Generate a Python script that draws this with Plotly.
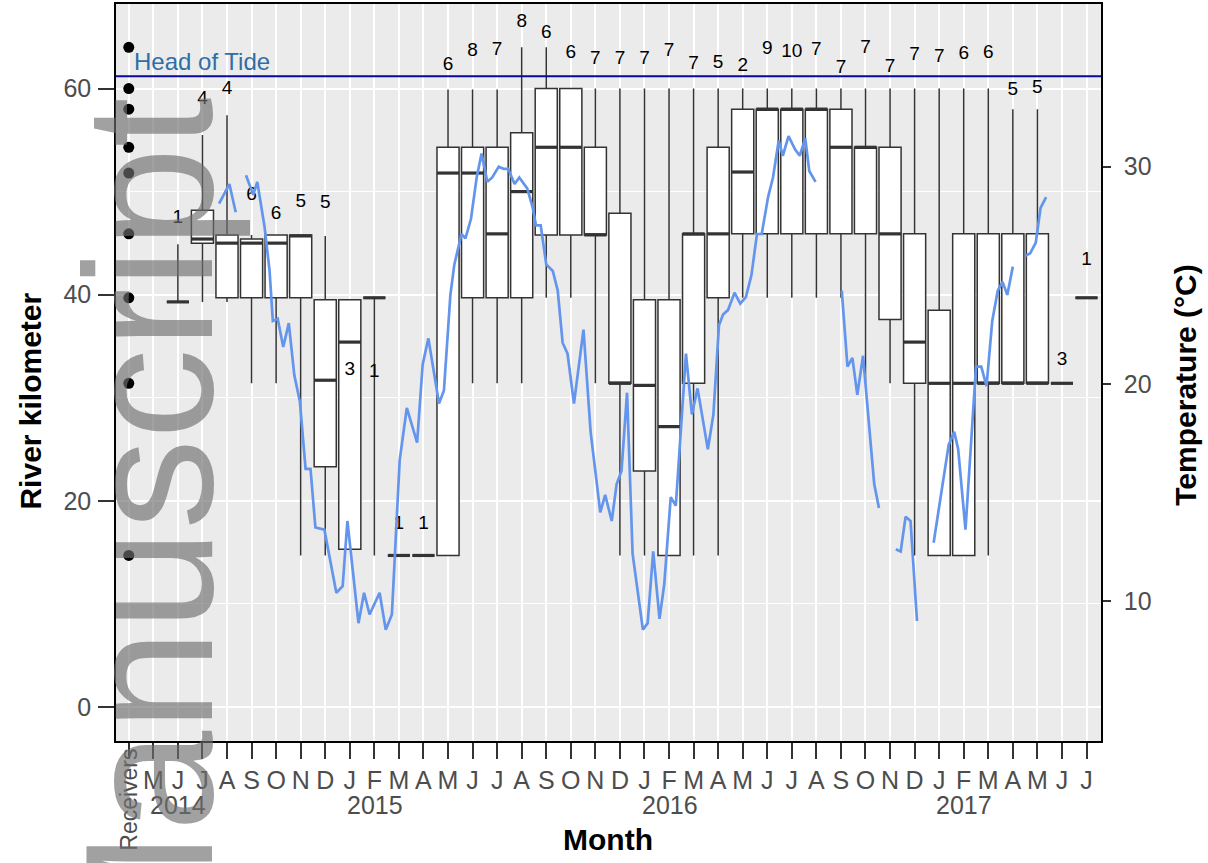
import calendar
import plotly.graph_objects as go

# ---------------------------------------------------------------- categories
months = [
    "2014-05", "2014-06", "2014-07", "2014-08", "2014-09", "2014-10", "2014-11", "2014-12",
    "2015-01", "2015-02", "2015-03", "2015-04", "2015-05", "2015-06", "2015-07", "2015-08",
    "2015-09", "2015-10", "2015-11", "2015-12",
    "2016-01", "2016-02", "2016-03", "2016-04", "2016-05", "2016-06", "2016-07", "2016-08",
    "2016-09", "2016-10", "2016-11", "2016-12",
    "2017-01", "2017-02", "2017-03", "2017-04", "2017-05", "2017-06", "2017-07",
]
month_labels = [
    "M", "J", "J", "A", "S", "O", "N", "D",
    "J", "F", "M", "A", "M", "J", "J", "A", "S", "O", "N", "D",
    "J", "F", "M", "A", "M", "J", "J", "A", "S", "O", "N", "D",
    "J", "F", "M", "A", "M", "J", "J",
]
receiver_label = "Receivers"
year_labels = ["2014", "2015", "2016", "2017"]
year_first_month = ["2014-05", "2015-01", "2016-01", "2017-01"]

# ---------------------------------------------------------------- receivers
receivers_km = [64.0, 60.0, 58.0, 54.3, 51.8, 45.9, 39.7, 31.4, 14.7]
head_of_tide_km = 61.2

# ---------------------------------------------------------------- monthly positions (box summaries, river km)
box_month = [
    "2014-06", "2014-07", "2014-08", "2014-09", "2014-10", "2014-11", "2014-12",
    "2015-01", "2015-02", "2015-03", "2015-04", "2015-05", "2015-06", "2015-07", "2015-08",
    "2015-09", "2015-10", "2015-11", "2015-12",
    "2016-01", "2016-02", "2016-03", "2016-04", "2016-05", "2016-06", "2016-07", "2016-08",
    "2016-09", "2016-10", "2016-11", "2016-12",
    "2017-01", "2017-02", "2017-03", "2017-04", "2017-05", "2017-06", "2017-07",
]
box_n = [1, 4, 4, 6, 6, 5, 5,
         3, 1, 1, 1, 6, 8, 7, 8, 6, 6, 7, 7,
         7, 7, 7, 5, 2, 9, 10, 7, 7, 7, 7, 7,
         7, 6, 6, 5, 5, 3, 1]
box_low = [39.3, 39.3, 39.3, 31.4, 31.4, 14.7, 14.7,
           15.3, 14.7, 14.7, 14.7, 14.7, 31.4, 31.4, 31.4, 39.7, 39.7, 31.4, 14.7,
           14.7, 14.7, 14.7, 14.7, 39.7, 39.7, 39.7, 39.7, 39.7, 31.4, 31.4, 14.7,
           14.7, 14.7, 14.7, 31.4, 31.4, 31.4, 39.7]
box_q1 = [39.3, 45.0, 39.7, 39.7, 39.7, 39.7, 23.3,
          15.3, 39.7, 14.7, 14.7, 14.7, 39.7, 39.7, 39.7, 45.8, 45.8, 45.8, 31.4,
          22.9, 14.7, 31.4, 39.7, 45.9, 45.9, 45.9, 45.9, 45.9, 45.9, 37.6, 31.4,
          14.7, 14.7, 31.4, 31.4, 31.4, 31.4, 39.7]
box_med = [39.3, 45.4, 45.0, 45.0, 45.0, 45.7, 31.7,
           35.4, 39.7, 14.7, 14.7, 51.8, 51.8, 45.9, 50.0, 54.3, 54.3, 45.8, 31.4,
           31.2, 27.2, 45.9, 45.9, 51.9, 58.0, 58.0, 58.0, 54.3, 54.3, 45.9, 35.4,
           31.4, 31.4, 31.4, 31.4, 31.4, 31.4, 39.7]
box_q3 = [39.3, 48.2, 45.8, 45.4, 45.8, 45.8, 39.5,
          39.5, 39.7, 14.7, 14.7, 54.3, 54.3, 54.3, 55.7, 60.0, 60.0, 54.3, 47.9,
          39.5, 39.5, 45.9, 54.3, 58.0, 58.0, 58.0, 58.0, 58.0, 54.3, 54.3, 45.9,
          38.5, 45.9, 45.9, 45.9, 45.9, 31.4, 39.7]
box_high = [44.9, 55.5, 57.4, 45.8, 45.8, 45.8, 45.7,
            39.5, 39.7, 14.7, 14.7, 59.9, 59.9, 59.9, 64.0, 64.0, 60.0, 60.0, 60.0,
            60.0, 60.0, 60.0, 60.0, 60.0, 60.0, 60.0, 60.0, 60.0, 60.0, 60.0, 60.0,
            60.0, 60.0, 60.0, 58.0, 58.0, 31.4, 39.7]
# height (river km) at which each fish count is printed
label_km = [47.4, 59.0, 59.9, 49.6, 47.8, 49.0, 48.9,
            32.7, 32.5, 17.7, 17.7, 62.3, 63.6, 63.7, 66.4, 65.4, 63.4, 62.8, 62.8,
            62.8, 63.6, 62.4, 62.5, 62.2, 63.8, 63.5, 63.7, 62.0, 63.9, 62.1, 63.2,
            63.0, 63.3, 63.4, 59.8, 60.0, 33.6, 43.3]

# ---------------------------------------------------------------- water temperature (°C); None = logger gap
temp_date = [
    "2014-07-22", "2014-08-04", "2014-08-12", None,
    "2014-08-25", "2014-09-03", "2014-09-08", "2014-09-17", "2014-09-23", "2014-09-27",
    "2014-10-03", "2014-10-10", "2014-10-17", "2014-10-24", "2014-10-31",
    "2014-11-07", "2014-11-13", "2014-11-19", "2014-11-30",
    "2014-12-15", "2014-12-23", "2014-12-29",
    "2015-01-12", "2015-01-19", "2015-01-26",
    "2015-02-07", "2015-02-14", "2015-02-21",
    "2015-03-02", "2015-03-11", "2015-03-24", "2015-03-31",
    "2015-04-07", "2015-04-20", "2015-04-26",
    "2015-05-04", "2015-05-09", "2015-05-18", "2015-05-23", "2015-05-30",
    "2015-06-06", "2015-06-12", "2015-06-19", "2015-06-25",
    "2015-07-03", "2015-07-09", "2015-07-15", "2015-07-23", "2015-07-29",
    "2015-08-08", "2015-08-15", "2015-08-19", "2015-08-25",
    "2015-09-01", "2015-09-09", "2015-09-15", "2015-09-21", "2015-09-27",
    "2015-10-05", "2015-10-17", "2015-10-26",
    "2015-11-07", "2015-11-13", "2015-11-21", "2015-11-27",
    "2015-12-03", "2015-12-10", "2015-12-17", "2015-12-30",
    "2016-01-05", "2016-01-12", "2016-01-20", "2016-01-26",
    "2016-02-03", "2016-02-09", "2016-02-21", "2016-02-28",
    "2016-03-06", "2016-03-19", "2016-03-26",
    "2016-04-02", "2016-04-07", "2016-04-13", "2016-04-21", "2016-04-28",
    "2016-05-05", "2016-05-12", "2016-05-19", "2016-05-25",
    "2016-06-02", "2016-06-08", "2016-06-15", "2016-06-20", "2016-06-27",
    "2016-07-05", "2016-07-11", "2016-07-18", "2016-07-23", "2016-07-31", None,
    "2016-09-02", "2016-09-09", "2016-09-15", "2016-09-21", "2016-09-28",
    "2016-10-05", "2016-10-12", "2016-10-18", None,
    "2016-11-08", "2016-11-14", "2016-11-20", "2016-11-26", "2016-12-04", None,
    "2016-12-25", "2017-01-04", "2017-01-13", "2017-01-20", "2017-01-25",
    "2017-02-03", "2017-02-10", "2017-02-15", "2017-02-21", "2017-02-27",
    "2017-03-06", "2017-03-13", "2017-03-19", "2017-03-25", "2017-04-01", None,
    "2017-04-16", "2017-04-22", "2017-04-29", "2017-05-05", "2017-05-12",
]
temp_c = [
    28.3, 29.2, 27.9, None,
    29.6, 28.7, 29.3, 27.2, 25.2, 22.9,
    23.0, 21.7, 22.8, 20.4, 19.2,
    16.1, 16.1, 13.4, 13.3,
    10.4, 10.7, 13.7,
    9.0, 10.4, 9.4,
    10.4, 8.7, 9.4,
    16.5, 18.9, 17.3, 20.9,
    22.1, 19.1, 19.7,
    24.1, 25.5, 26.9, 26.7, 27.6,
    29.5, 30.6, 29.3, 29.5,
    30.0, 29.9, 29.9, 29.2, 29.5,
    29.0, 28.1, 27.3, 27.3,
    25.5, 25.2, 24.3, 21.9, 21.4,
    19.1, 22.5, 17.8,
    14.1, 14.9, 13.7, 15.4,
    16.0, 19.6, 12.2, 8.7,
    9.0, 12.3, 9.2, 10.8,
    14.8, 14.4, 21.4, 18.6,
    19.8, 17.0, 18.6,
    22.7, 23.2, 23.4, 24.2, 23.7,
    24.0, 25.0, 26.9, 26.9,
    28.6, 29.5, 31.2, 30.5, 31.4,
    30.8, 30.5, 31.3, 29.8, 29.3, None,
    24.3, 20.8, 21.2, 19.5, 21.3,
    18.3, 15.4, 14.3, None,
    12.4, 12.3, 13.9, 13.7, 9.1, None,
    12.7, 15.1, 17.2, 17.8, 17.0,
    13.3, 17.5, 20.8, 20.8, 19.9,
    22.9, 24.3, 24.7, 24.1, 25.4, None,
    25.9, 26.0, 26.5, 28.1, 28.6,
]

# ---------------------------------------------------------------- helpers
FONT = "Liberation Sans, Arial, sans-serif"
GREY_TXT = "#4D4D4D"
INK = "#333333"


def month_pos(key):
    # category 0 is the receiver column, months follow from 1
    return months.index(key) + 1


def date_pos(s):
    if s is None:
        return None
    y, m, d = (int(v) for v in s.split("-"))
    return month_pos(f"{y}-{m:02d}") + (d - 1) / calendar.monthrange(y, m)[1]


box_x = [month_pos(k) for k in box_month]
temp_x = [date_pos(s) for s in temp_date]
BOX_W = 0.9

fig = go.Figure()

fig.add_trace(go.Box(
    x=box_x, q1=box_q1, median=box_med, q3=box_q3,
    lowerfence=box_low, upperfence=box_high,
    width=BOX_W, whiskerwidth=0, boxpoints=False,
    fillcolor="white", line=dict(color=INK, width=1.5),
    hoverinfo="skip", showlegend=False,
))

# heavier median bars, as in the ggplot boxplot
med_x, med_y = [], []
for x, m in zip(box_x, box_med):
    med_x += [x - BOX_W / 2, x + BOX_W / 2, None]
    med_y += [m, m, None]
fig.add_trace(go.Scatter(
    x=med_x, y=med_y, mode="lines", line=dict(color=INK, width=3.2),
    hoverinfo="skip", showlegend=False,
))

# receiver locations
fig.add_trace(go.Scatter(
    x=[0] * len(receivers_km), y=receivers_km, mode="markers",
    marker=dict(size=11, color="black"), hoverinfo="skip", showlegend=False,
))

# number of fish detected each month
fig.add_trace(go.Scatter(
    x=box_x, y=label_km, mode="text", text=[str(n) for n in box_n],
    textfont=dict(size=19, color="black", family=FONT),
    hoverinfo="skip", showlegend=False,
))

# water temperature on the secondary axis
fig.add_trace(go.Scatter(
    x=temp_x, y=temp_c, yaxis="y2", mode="lines", connectgaps=False,
    line=dict(color="#6495ED", width=2.7), hoverinfo="skip", showlegend=False,
))

annotations = [
    dict(text="Head of Tide", xref="paper", yref="y", x=0.0165, y=head_of_tide_km + 1.4,
         xanchor="left", yanchor="middle", showarrow=False,
         font=dict(size=24, color="#2F6EA8", family=FONT)),
    dict(text=receiver_label, xref="x", yref="paper", x=0, y=-0.080, textangle=-90,
         xanchor="center", yanchor="middle", showarrow=False,
         font=dict(size=23, color=GREY_TXT, family=FONT)),
    dict(text="River kilometer", xref="paper", yref="paper", x=-0.087, y=0.461,
         textangle=-90, xanchor="center", yanchor="middle", showarrow=False,
         font=dict(size=30, color="black", family=FONT, weight="bold")),
    dict(text="Temperature (°C)", xref="paper", yref="paper", x=1.085, y=0.483,
         textangle=-90, xanchor="center", yanchor="middle", showarrow=False,
         font=dict(size=30, color="black", family=FONT, weight="bold")),
    dict(text="Month", xref="paper", yref="paper", x=0.4995, y=-0.134,
         xanchor="center", yanchor="middle", showarrow=False,
         font=dict(size=30, color="black", family=FONT, weight="bold")),
]
for lab, first in zip(year_labels, year_first_month):
    annotations.append(dict(
        text=lab, xref="x", yref="paper", x=month_pos(first) - 0.2, y=-0.087,
        xanchor="left", yanchor="middle", showarrow=False,
        font=dict(size=25, color=GREY_TXT, family=FONT)))
# manuscript watermark
annotations.append(dict(
    text="Manuscript", xref="paper", yref="paper", x=0.033, y=0.273, textangle=-90,
    xanchor="center", yanchor="middle", showarrow=False,
    font=dict(size=181, color="rgba(110,110,110,0.65)", family=FONT)))

fig.update_layout(
    width=1208, height=863,
    margin=dict(l=116, r=107, t=2, b=122),
    paper_bgcolor="white", plot_bgcolor="#EBEBEB",
    font=dict(family=FONT),
    showlegend=False,
    xaxis=dict(
        range=[-0.52, 39.59], tickmode="array",
        tickvals=list(range(len(months) + 1)),
        ticktext=[""] + month_labels,
        tickfont=dict(size=25, color=GREY_TXT),
        ticks="outside", ticklen=16, tickwidth=1.5, tickcolor=INK,
        showgrid=True, gridcolor="white", gridwidth=1.5,
        showline=True, linecolor="black", linewidth=1.5, mirror=True,
        zeroline=False,
    ),
    yaxis=dict(
        range=[-3.3, 68.2], tickmode="array", tickvals=[0, 20, 40, 60],
        tickfont=dict(size=25, color=GREY_TXT), ticklabelstandoff=2,
        ticks="outside", ticklen=16, tickwidth=1.5, tickcolor=INK,
        showgrid=True, gridcolor="white", gridwidth=1.5,
        minor=dict(tickvals=[10, 30, 50], showgrid=True, gridcolor="white",
                   gridwidth=0.8, ticks=""),
        showline=True, linecolor="black", linewidth=1.5, mirror=True,
        zeroline=False,
    ),
    yaxis2=dict(
        range=[3.58, 37.48], overlaying="y", side="right",
        tickmode="array", tickvals=[10, 20, 30],
        tickfont=dict(size=25, color=GREY_TXT), ticklabelstandoff=8,
        ticks="outside", ticklen=8, tickwidth=1.5, tickcolor=INK,
        showgrid=False, zeroline=False,
        showline=True, linecolor="black", linewidth=1.5,
    ),
    shapes=[dict(type="line", xref="paper", x0=0, x1=1, yref="y",
                 y0=head_of_tide_km, y1=head_of_tide_km,
                 line=dict(color="#0A0A9A", width=2))],
    annotations=annotations,
)

fig.write_html("out.html")
